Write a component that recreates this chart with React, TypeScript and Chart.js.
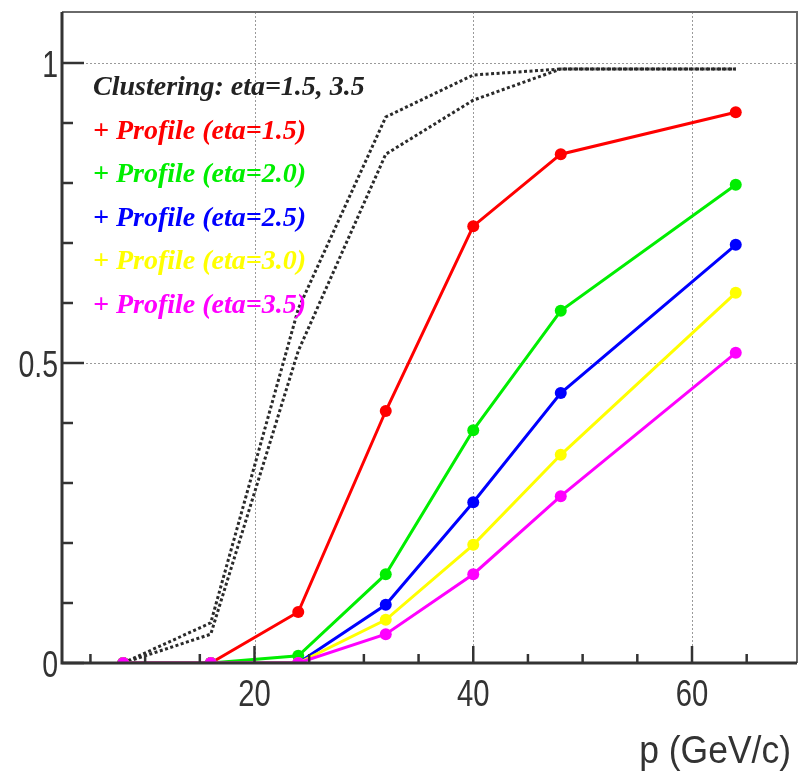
import React, { useEffect, useRef } from "react";
import { Chart, registerables } from "chart.js";

Chart.register(...registerables);

// ---- data ----
const pValues = [8, 16, 24, 32, 40, 48, 64];
const clusteringEta15 = [0, 0.067, 0.59, 0.91, 0.98, 0.99, 0.99];
const clusteringEta35 = [0, 0.048, 0.52, 0.848, 0.938, 0.99, 0.99];
const profileEta15 = [0, 0, 0.085, 0.42, 0.728, 0.848, 0.918];
const profileEta20 = [0, 0, 0.012, 0.148, 0.388, 0.587, 0.797];
const profileEta25 = [0, 0, 0, 0.097, 0.268, 0.45, 0.697];
const profileEta30 = [0, 0, 0, 0.072, 0.197, 0.347, 0.617];
const profileEta35 = [0, 0, 0, 0.048, 0.148, 0.278, 0.517];

const xRange = [2.4, 69.6];
const yRange = [0, 1.085];
const xMajorTicks = [20, 40, 60];
const xMinorTicks = [5, 10, 15, 25, 30, 35, 45, 50, 55, 65];
const yMajorTicks = [0, 0.5, 1];
const yMinorTicks = [0.1, 0.2, 0.3, 0.4, 0.6, 0.7, 0.8, 0.9];
const xTickLabels = ["20", "40", "60"];
const yTickLabels = ["0", "0.5", "1"];
const xTitle = "p (GeV/c)";

const legendLabels = [
  "Clustering: eta=1.5, 3.5",
  "+ Profile (eta=1.5)",
  "+ Profile (eta=2.0)",
  "+ Profile (eta=2.5)",
  "+ Profile (eta=3.0)",
  "+ Profile (eta=3.5)",
];
const legendColors = ["#222222", "#ff0000", "#00ee00", "#0000ff", "#ffff00", "#ff00ff"];

const profileSeries = [
  { values: profileEta15, color: "#ff0000", order: 4 },
  { values: profileEta20, color: "#00ee00", order: 3 },
  { values: profileEta25, color: "#0000ff", order: 2 },
  { values: profileEta30, color: "#ffff00", order: 1 },
  { values: profileEta35, color: "#ff00ff", order: 0 },
];

const toPoints = (ys: number[]) => pValues.map((x, i) => ({ x, y: ys[i] }));

const SANS = '"Liberation Sans", Arial, sans-serif';

const drawScaled = (
  ctx: CanvasRenderingContext2D,
  text: string,
  x: number,
  y: number,
  sx: number,
  align: CanvasTextAlign,
) => {
  ctx.save();
  ctx.translate(x, y);
  ctx.scale(sx, 1);
  ctx.textAlign = align;
  ctx.fillText(text, 0, 0);
  ctx.restore();
};

const decorPlugin = {
  id: "decor",
  beforeDatasetsDraw(chart: any) {
    const { ctx, chartArea: a, scales } = chart;
    const x = scales.x;
    const y = scales.y;
    ctx.save();
    ctx.strokeStyle = "#9a9a9a";
    ctx.lineWidth = 1;
    ctx.setLineDash([2, 2]);
    xMajorTicks.forEach((v) => {
      const px = Math.round(x.getPixelForValue(v)) + 0.5;
      ctx.beginPath();
      ctx.moveTo(px, a.top);
      ctx.lineTo(px, a.bottom);
      ctx.stroke();
    });
    yMajorTicks.forEach((v) => {
      if (v === 0) return;
      const py = Math.round(y.getPixelForValue(v)) + 0.5;
      ctx.beginPath();
      ctx.moveTo(a.left, py);
      ctx.lineTo(a.right, py);
      ctx.stroke();
    });
    ctx.restore();
  },
  afterDatasetsDraw(chart: any) {
    const { ctx, chartArea: a, scales } = chart;
    const x = scales.x;
    const y = scales.y;
    ctx.save();
    ctx.setLineDash([]);
    // top & right frame
    ctx.strokeStyle = "#6a6a6a";
    ctx.lineWidth = 2;
    ctx.beginPath();
    ctx.moveTo(a.left, a.top);
    ctx.lineTo(a.right, a.top);
    ctx.lineTo(a.right, a.bottom);
    ctx.stroke();
    // axes
    ctx.strokeStyle = "#333333";
    ctx.lineWidth = 3;
    ctx.beginPath();
    ctx.moveTo(a.left, a.top);
    ctx.lineTo(a.left, a.bottom);
    ctx.lineTo(a.right, a.bottom);
    ctx.stroke();
    // inside ticks
    ctx.lineWidth = 2.5;
    const tick = (px: number, py: number, dx: number, dy: number) => {
      ctx.beginPath();
      ctx.moveTo(px, py);
      ctx.lineTo(px + dx, py + dy);
      ctx.stroke();
    };
    xMajorTicks.forEach((v) => tick(x.getPixelForValue(v), a.bottom, 0, -17));
    xMinorTicks.forEach((v) => tick(x.getPixelForValue(v), a.bottom, 0, -9));
    yMajorTicks.forEach((v) => tick(a.left, y.getPixelForValue(v), 22, 0));
    yMinorTicks.forEach((v) => tick(a.left, y.getPixelForValue(v), 11, 0));

    // tick labels (condensed sans, as in the original)
    ctx.fillStyle = "#333333";
    ctx.font = `37px ${SANS}`;
    ctx.textBaseline = "alphabetic";
    yMajorTicks.forEach((v, i) => {
      const py = y.getPixelForValue(v);
      drawScaled(ctx, yTickLabels[i], a.left - 4, py + 14, 0.77, "right");
    });
    xMajorTicks.forEach((v, i) => {
      const px = x.getPixelForValue(v);
      drawScaled(ctx, xTickLabels[i], px, a.bottom + 43, 0.79, "center");
    });
    // axis title
    ctx.font = `39px ${SANS}`;
    drawScaled(ctx, xTitle, 791, 763, 0.91, "right");
    ctx.restore();
  },
  afterDraw(chart: any) {
    const { ctx } = chart;
    ctx.save();
    ctx.font = 'italic bold 28px "Liberation Serif", "Times New Roman", serif';
    ctx.textAlign = "left";
    ctx.textBaseline = "alphabetic";
    legendLabels.forEach((t, i) => {
      ctx.fillStyle = legendColors[i];
      ctx.fillText(t, 93, 95 + i * 43.6);
    });
    ctx.restore();
  },
};

export default function App() {
  const ref = useRef<HTMLCanvasElement>(null);
  useEffect(() => {
    const datasets: any[] = [
      {
        data: toPoints(clusteringEta15),
        borderColor: "#2a2a2a",
        borderWidth: 3,
        borderDash: [3, 2.5],
        pointRadius: 0,
        order: 5,
      },
      {
        data: toPoints(clusteringEta35),
        borderColor: "#2a2a2a",
        borderWidth: 3,
        borderDash: [3, 2.5],
        pointRadius: 0,
        order: 6,
      },
      ...profileSeries.map((s) => ({
        data: toPoints(s.values),
        borderColor: s.color,
        backgroundColor: s.color,
        borderWidth: 3,
        pointRadius: 6,
        pointBorderWidth: 0,
        pointBackgroundColor: s.color,
        order: s.order,
      })),
    ];
    const chart = new Chart(ref.current!, {
      type: "line",
      data: { datasets },
      options: {
        responsive: false,
        animation: false,
        events: [],
        layout: { padding: { top: 12, right: 3, left: 0, bottom: 0 }, autoPadding: false },
        plugins: { legend: { display: false }, tooltip: { enabled: false } },
        elements: { line: { tension: 0 } },
        scales: {
          x: {
            type: "linear",
            min: xRange[0],
            max: xRange[1],
            grid: { display: false, drawTicks: false, tickLength: 0 },
            border: { display: false },
            ticks: { display: false },
            afterBuildTicks: (s: any) => {
              s.ticks = xMajorTicks.map((v) => ({ value: v }));
            },
            afterFit: (s: any) => {
              s.height = 112;
              s.paddingLeft = 0;
              s.paddingRight = 0;
            },
          },
          y: {
            type: "linear",
            min: yRange[0],
            max: yRange[1],
            grid: { display: false, drawTicks: false, tickLength: 0 },
            border: { display: false },
            ticks: { display: false },
            afterBuildTicks: (s: any) => {
              s.ticks = yMajorTicks.map((v) => ({ value: v }));
            },
            afterFit: (s: any) => {
              s.width = 62;
              s.paddingTop = 0;
              s.paddingBottom = 0;
            },
          },
        },
      },
      plugins: [decorPlugin],
    } as any);
    return () => chart.destroy();
  }, []);
  return (
    <div style={{ position: "fixed", left: 0, top: 0, width: 800, height: 775, background: "#ffffff" }}>
      <canvas ref={ref} width={800} height={775} style={{ width: 800, height: 775, display: "block" }} />
    </div>
  );
}
